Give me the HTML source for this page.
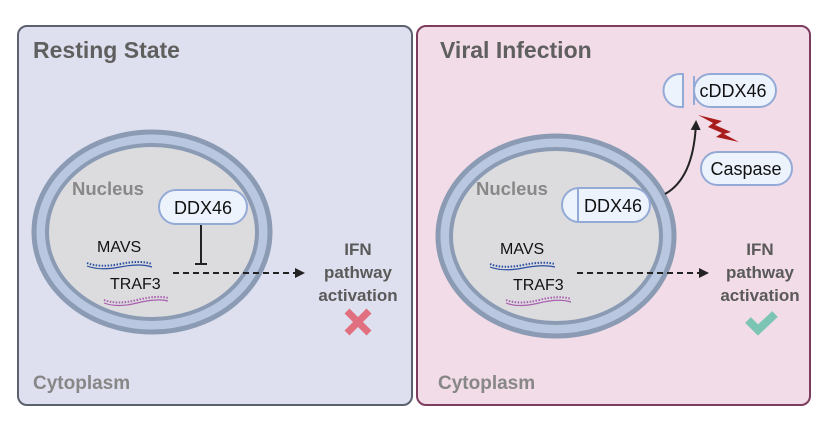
<!DOCTYPE html>
<html><head><style>body{margin:0;background:#fff}svg{display:block}text{font-family:"Liberation Sans",Arial,sans-serif}</style></head><body>
<svg width="830" height="428" viewBox="0 0 830 428" xmlns="http://www.w3.org/2000/svg">
<defs>
<marker id="ah" markerWidth="10" markerHeight="10" refX="8" refY="5" orient="auto" markerUnits="userSpaceOnUse"><path d="M0,0 L10,5 L0,10 Z" fill="#222"/></marker>
</defs>
<rect x="18" y="26" width="394" height="379" rx="9" fill="#dfe0ef" stroke="#5c6170" stroke-width="2"/>
<rect x="417" y="26" width="393" height="379" rx="9" fill="#f2dce7" stroke="#7d3d5e" stroke-width="2"/>
<text x="33" y="58" font-size="23" font-weight="bold" fill="#5f5f5f">Resting State</text>
<text x="440" y="58" font-size="23" font-weight="bold" fill="#5f5f5f">Viral Infection</text>
<text x="33" y="389" font-size="19" fill="#878787" font-weight="bold">Cytoplasm</text>
<text x="438" y="389" font-size="19" fill="#878787" font-weight="bold">Cytoplasm</text>

<!-- left nucleus -->
<ellipse cx="152" cy="232" rx="118" ry="100" fill="#b9c8e0" stroke="#8b9bb4" stroke-width="5"/>
<ellipse cx="152" cy="232" rx="105" ry="87" fill="#dcdcdf" stroke="#8b9bb4" stroke-width="4"/>
<text x="72" y="195" font-size="18.5" font-weight="bold" fill="#888">Nucleus</text>
<rect x="159" y="190" width="88" height="34" rx="17" fill="#edf3fc" stroke="#94aad6" stroke-width="2"/>
<text x="203" y="214" font-size="18" text-anchor="middle" fill="#111">DDX46</text>
<line x1="201" y1="225" x2="201" y2="264" stroke="#222" stroke-width="2"/>
<line x1="195" y1="264" x2="207" y2="264" stroke="#222" stroke-width="2"/>
<text x="97" y="252" font-size="16" fill="#111">MAVS</text>
<path d="M87,263 Q100,268 120,264 T152,264" fill="none" stroke="#2a4ea0" stroke-width="2" stroke-dasharray="1.5 1.5"/>
<path d="M87,263 Q100,268 120,264 T152,264" fill="none" stroke="#2a4ea0" stroke-width="1.2" transform="translate(0,3)"/>
<text x="110" y="289" font-size="16" fill="#111">TRAF3</text>
<path d="M104,300 Q117,305 137,300 T168,298" fill="none" stroke="#a85fae" stroke-width="2" stroke-dasharray="1.5 1.5"/>
<path d="M104,300 Q117,305 137,300 T168,298" fill="none" stroke="#a85fae" stroke-width="1.2" transform="translate(0,3)"/>
<line x1="173" y1="273" x2="303" y2="273" stroke="#222" stroke-width="2" stroke-dasharray="6 4" marker-end="url(#ah)"/>
<g font-size="17" font-weight="bold" fill="#5a5a5a" text-anchor="middle">
<text x="358" y="255">IFN</text><text x="358" y="278">pathway</text><text x="358" y="301">activation</text>
</g>
<g stroke="#e0707f" stroke-width="7" stroke-linecap="butt"><line x1="347" y1="311" x2="369" y2="333"/><line x1="369" y1="311" x2="347" y2="333"/></g>

<!-- right nucleus -->
<ellipse cx="556" cy="236" rx="118" ry="100" fill="#b9c8e0" stroke="#8b9bb4" stroke-width="5"/>
<ellipse cx="556" cy="236" rx="105" ry="87" fill="#dcdcdf" stroke="#8b9bb4" stroke-width="4"/>
<text x="476" y="195" font-size="18.5" font-weight="bold" fill="#888">Nucleus</text>
<rect x="562" y="188" width="88" height="34" rx="17" fill="#edf3fc" stroke="#94aad6" stroke-width="2"/>
<line x1="578" y1="189" x2="578" y2="221" stroke="#94aad6" stroke-width="2"/>
<text x="613" y="212" font-size="18" text-anchor="middle" fill="#111">DDX46</text>
<text x="500" y="254" font-size="16" fill="#111">MAVS</text>
<path d="M490,264 Q503,269 523,265 T555,264" fill="none" stroke="#2a4ea0" stroke-width="2" stroke-dasharray="1.5 1.5"/>
<path d="M490,264 Q503,269 523,265 T555,264" fill="none" stroke="#2a4ea0" stroke-width="1.2" transform="translate(0,3)"/>
<text x="513" y="290" font-size="16" fill="#111">TRAF3</text>
<path d="M506,300 Q519,305 539,300 T571,299" fill="none" stroke="#a85fae" stroke-width="2" stroke-dasharray="1.5 1.5"/>
<path d="M506,300 Q519,305 539,300 T571,299" fill="none" stroke="#a85fae" stroke-width="1.2" transform="translate(0,3)"/>
<line x1="577" y1="273" x2="707" y2="273" stroke="#222" stroke-width="2" stroke-dasharray="6 4" marker-end="url(#ah)"/>
<g font-size="17" font-weight="bold" fill="#5a5a5a" text-anchor="middle">
<text x="760" y="255">IFN</text><text x="760" y="278">pathway</text><text x="760" y="301">activation</text>
</g>
<polyline points="748,320 758,330 775,314" fill="none" stroke="#7cc5b4" stroke-width="8"/>

<!-- cDDX46 -->
<path d="M683,74 L680,74 A16,16 0 0 0 680,107 L683,107 Z" fill="#edf3fc" stroke="#94aad6" stroke-width="2"/>
<rect x="694" y="74" width="82" height="33" rx="16.5" fill="#edf3fc" stroke="#94aad6" stroke-width="2"/>
<line x1="694" y1="76" x2="694" y2="105" stroke="#94aad6" stroke-width="2"/>
<text x="733" y="97" font-size="18" text-anchor="middle" fill="#111">cDDX46</text>
<polygon points="698,115 722,121 715,125 731,132 724,134 739,142 716,137 722,133 708,127 713,123" fill="#a81c1c"/>
<rect x="701" y="152" width="91" height="33" rx="16.5" fill="#edf3fc" stroke="#94aad6" stroke-width="2"/>
<text x="746" y="175" font-size="18" text-anchor="middle" fill="#111">Caspase</text>
<path d="M665,194 Q694,178 696,122" fill="none" stroke="#222" stroke-width="2" marker-end="url(#ah)"/>
</svg>
</body></html>
